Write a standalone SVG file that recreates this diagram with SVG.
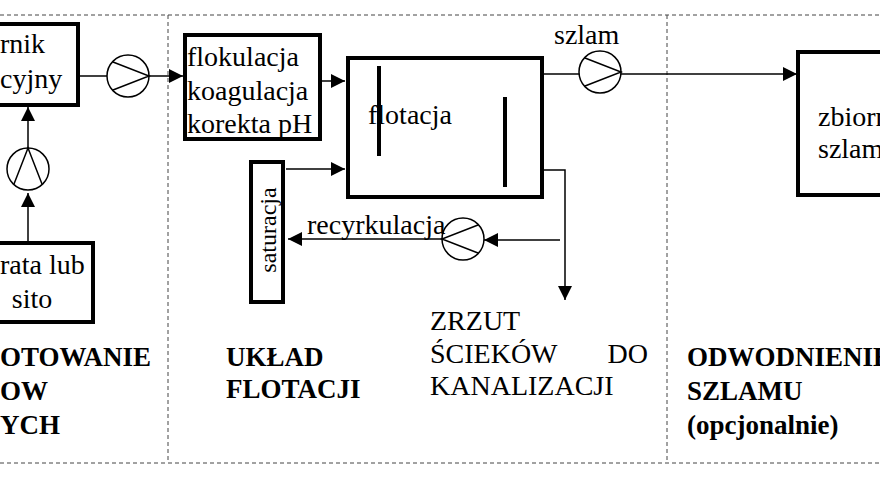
<svg xmlns="http://www.w3.org/2000/svg" width="880" height="480" viewBox="0 0 880 480" font-family="'Liberation Serif', 'Times New Roman', serif" font-size="28">
<style>
.box{fill:#fff;stroke:#000;stroke-width:4}
.ln{stroke:#000;stroke-width:1.5;fill:none}
.d{stroke:#444;stroke-width:1;stroke-dasharray:4 3;fill:none}
.p{fill:#fff;stroke:#000;stroke-width:1.5}
</style>
<defs><marker id="a" viewBox="0 0 10 10" refX="10" refY="5" markerWidth="14" markerHeight="14" markerUnits="userSpaceOnUse" orient="auto"><path d="M0,0L10,5L0,10z"/></marker></defs>
<rect width="880" height="480" fill="#fff"/>
<g id="frame">
<path class="d" d="M0,15H880M0,463H880M168,15V463M667,15V463"/>
</g>
<g id="connectors">
<path class="ln" d="M78,76H183" marker-end="url(#a)"/>
<path class="ln" d="M320,81H345" marker-end="url(#a)"/>
<path class="ln" d="M286,169H345" marker-end="url(#a)"/>
<path class="ln" d="M535,74H797" marker-end="url(#a)"/>
<path class="ln" d="M543,170H565V300" marker-end="url(#a)"/>
<path class="ln" d="M560,240H484" marker-end="url(#a)"/>
<path class="ln" d="M442,239H288" marker-end="url(#a)"/>
<path class="ln" d="M28,148V107" marker-end="url(#a)"/>
<path class="ln" d="M28,243V193" marker-end="url(#a)"/>
</g>
<g id="pump1"><circle class="p" cx="128" cy="76" r="21"/><path class="ln" d="M113,62L149,76L113,90"/></g>
<g id="pump2"><circle class="p" cx="600" cy="72" r="21"/><path class="ln" d="M585,58L621,72L585,86"/></g>
<g id="pump3"><circle class="p" cx="463" cy="239" r="21"/><path class="ln" d="M478,225L442,239L478,253"/></g>
<g id="pump4"><circle class="p" cx="28" cy="169" r="21"/><path class="ln" d="M14,184L28,148L42,184"/></g>
<g id="zbiornik-retencyjny"><rect class="box" x="-10" y="24" width="88" height="81"/><text x="0" y="53">rnik</text><text x="0" y="88">cyjny</text></g>
<g id="krata"><rect class="box" x="-10" y="243" width="103" height="79"/><text x="0" y="274">rata lub</text><text x="32" y="308" text-anchor="middle">sito</text></g>
<g id="flokulacja"><rect class="box" x="185" y="35" width="135" height="104"/><text x="187" y="66">flokulacja</text><text x="187" y="100">koagulacja</text><text x="187" y="133">korekta pH</text></g>
<g id="flotacja"><rect class="box" x="348" y="58" width="194" height="139"/><path stroke="#000" stroke-width="4" d="M379,66V156M505,97V187"/><text x="368" y="124">flotacja</text></g>
<g id="saturacja"><rect class="box" x="251" y="162" width="32" height="140"/><text font-size="24" transform="translate(276,230) rotate(-90)" text-anchor="middle">saturacja</text></g>
<g id="zbiornik-szlamu"><rect class="box" x="798" y="52" width="100" height="143"/><text x="818" y="126">zbiorn</text><text x="818" y="158">szlam</text></g>
<g id="labels">
<text x="554" y="44">szlam</text>
<text x="307" y="234">recyrkulacja</text>
<text x="430" y="330">ZRZUT</text>
<text x="430" y="363">ŚCIEKÓW</text><text x="648" y="363" text-anchor="end">DO</text>
<text x="430" y="395">KANALIZACJI</text>
</g>
<g id="sections" font-weight="bold" font-size="27">
<text x="0" y="366">OTOWANIE</text>
<text x="0" y="400">OW</text>
<text x="0" y="434">YCH</text>
<text x="226" y="366">UKŁAD</text>
<text x="226" y="398">FLOTACJI</text>
<text x="687" y="366">ODWODNIENIE</text>
<text x="687" y="400">SZLAMU</text>
<text x="687" y="434">(opcjonalnie)</text>
</g>
</svg>
